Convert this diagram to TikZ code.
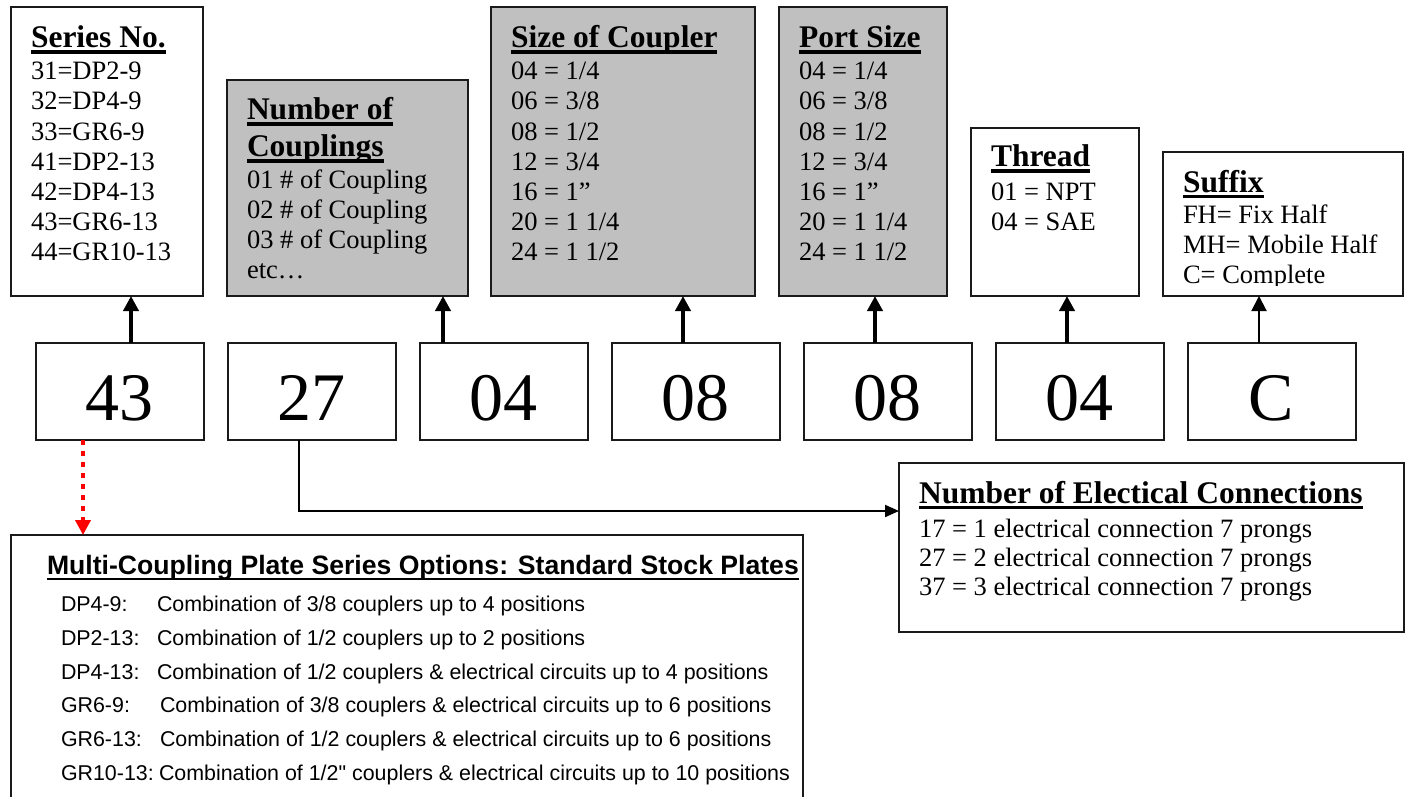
\documentclass[tikz,border=0pt]{standalone}
\usepackage{fontspec}
\setmainfont{Liberation Serif}
\newfontfamily\arialfont{Liberation Sans}[Ligatures=TeXOff]
\usepackage{xcolor}
\definecolor{panel}{RGB}{192, 192, 192}
\definecolor{edge}{RGB}{26, 26, 26}
\definecolor{pointer}{RGB}{255, 0, 0}
\usetikzlibrary{arrows.meta, positioning}
\newsavebox\ulbox
\newcommand{\titleul}[2][3.5pt]{\sbox\ulbox{#2}\rlap{\rule[-6pt]{\wd\ulbox}{#1}}\usebox\ulbox}

\begin{document}
\begin{tikzpicture}[
  x = 1pt, y = -1pt,
  every node/.style = {inner sep=0pt, outer sep=0pt},
  % node styles
  box/.style   = {rectangle, draw=edge, line width=2pt, fill=white, anchor=south west},
  gbox/.style  = {box, fill=panel},
  code/.style  = {rectangle, draw=edge, line width=2pt, minimum width=168pt,
                  minimum height=97pt, text height=57pt, text depth=0pt,
                  font=\fontsize{68}{68}\selectfont},
  head/.style  = {anchor=base west, font=\fontsize{31.5}{37}\selectfont\bfseries},
  txt/.style   = {anchor=base west, font=\fontsize{26.5}{30}\selectfont},
  ahead/.style = {anchor=base west, font=\arialfont\fontsize{26.6}{30}\selectfont\bfseries},
  atxt/.style  = {anchor=base west, font=\arialfont\fontsize{21.4}{25}\selectfont},
  % arrow styles
  uparr/.style   = {-{Triangle[length=15pt, width=15pt]}, line width=4.5pt},
  thinarr/.style = {-{Triangle[length=15pt, width=15pt]}, line width=2pt},
  elarr/.style   = {-{Triangle[length=14pt, width=12pt]}, line width=2pt},
  redarr/.style  = {-{Triangle[length=15pt, width=15pt]}, line width=4.5pt,
                    color=pointer, dash pattern=on 5pt off 6pt},
]
\path[use as bounding box, fill=white] (0,0) rectangle (1408,797);

%% Top row: legend boxes
\node[box,  minimum width=192pt, minimum height=289pt] (series) at (11,296)   {};
\node[gbox, minimum width=241pt, minimum height=216pt] (ncoup)  at (227,296)  {};
\node[gbox, minimum width=264pt, minimum height=289pt] (csize)  at (491,296)  {};
\node[gbox, minimum width=168pt, minimum height=289pt] (psize)  at (779,296)  {};
\node[box,  minimum width=168pt, minimum height=168pt] (thread) at (971,296)  {};
\node[box,  minimum width=240pt, minimum height=144pt] (suffix) at (1163,296) {};

%% Legend texts
\node[head] (serieshd) at (31,48) {\titleul{Series No.}};
\foreach \t [count=\i] in {31=DP2-9, 32=DP4-9, 33=GR6-9, 41=DP2-13, 42=DP4-13, 43=GR6-13, 44=GR10-13}
  \node[txt] (series\i) at (31,50+30*\i) {\t};

\node[head] (ncouphd)  at (247,120) {\titleul{Number of}};
\node[head] (ncouphd2) at (247,157) {\titleul{Couplings}};
\foreach \t [count=\i] in {01 \# of Coupling, 02 \# of Coupling, 03 \# of Coupling, etc…}
  \node[txt] (ncoup\i) at (247,158+30*\i) {\t};

\node[head] (csizehd) at (511,48) {\titleul{Size of Coupler}};
\node[head] (psizehd) at (799,48) {\titleul{Port Size}};
\foreach \t [count=\i] in {04 = 1/4, 06 = 3/8, 08 = 1/2, 12 = 3/4, 16 = 1”, 20 = 1 1/4, 24 = 1 1/2}{
  \node[txt] (csize\i) at (511,50+30*\i) {\t};
  \node[txt] (psize\i) at (799,50+30*\i) {\t};
}

\node[head] (threadhd) at (991,167) {\titleul{Thread}};
\node[txt]  (thread1)  at (991,200) {01 = NPT};
\node[txt]  (thread2)  at (991,230) {04 = SAE};

\begin{scope}
  \clip (1163,152) rectangle (1403,285);
  \node[head] (suffixhd) at (1183,192) {\titleul{Suffix}};
  \node[txt]  (suffix1)  at (1183,223) {FH= Fix Half};
  \node[txt]  (suffix2)  at (1183,253) {MH= Mobile Half};
  \node[txt]  (suffix3)  at (1183,283) {C= Complete};
\end{scope}

%% Middle row: part number codes
\node[code] (c43) at (119.5,391.5) {43};
\node[code, right=24pt of c43]  (c27)  {27};
\node[code, right=24pt of c27]  (c04a) {04};
\node[code, right=24pt of c04a] (c08a) {08};
\node[code, right=24pt of c08a] (c08b) {08};
\node[code, right=24pt of c08b] (c04b) {04};
\node[code, right=24pt of c04b] (cC)   {C};

%% Code to legend arrows
\draw[uparr]   ([xshift=11.5pt]c43.north)  -- ([xshift=11.5pt]c43.north |- series.south);
\draw[uparr]   ([xshift=-60.5pt]c04a.north) -- ([xshift=-60.5pt]c04a.north |- ncoup.south);
\draw[uparr]   ([xshift=-12.5pt]c08a.north) -- ([xshift=-12.5pt]c08a.north |- csize.south);
\draw[uparr]   ([xshift=-12.5pt]c08b.north) -- ([xshift=-12.5pt]c08b.north |- psize.south);
\draw[uparr]   ([xshift=-12.5pt]c04b.north) -- ([xshift=-12.5pt]c04b.north |- thread.south);
\draw[thinarr] ([xshift=-12.5pt]cC.north)   -- ([xshift=-12.5pt]cC.north |- suffix.south);

%% Electrical connections box
\node[box, anchor=north west, minimum width=505pt, minimum height=169pt] (elec) at (899,463) {};
\node[head] (elechd) at (919,503) {\titleul{Number of Electical Connections}};
\foreach \n [count=\i] in {1, 2, 3}
  \node[txt] (elec\i) at (919,508+29*\i) {\n7 = \n\ electrical connection 7 prongs};
\draw[elarr] ([xshift=-12.5pt]c27.south) |- ([yshift=36.5pt]elec.west);

%% Plate series box
\node[box, anchor=north west, minimum width=792pt, minimum height=265pt] (plates) at (11,535) {};
\draw[redarr] ([xshift=-36.5pt]c43.south) -- ([xshift=-36.5pt]c43.south |- plates.north);
\node[ahead] (plateshd) at (47,574)
  {\titleul[2.5pt]{Multi-Coupling Plate Series Options: Standard Stock Plates}};
\node[atxt] (lab1) at (61,611) {DP4-9:};
\node[atxt] (lab2) at (61,645) {DP2-13:};
\node[atxt] (lab3) at (61,679) {DP4-13:};
\node[atxt] (lab4) at (61,712) {GR6-9:};
\node[atxt] (lab5) at (61,746) {GR6-13:};
\node[atxt] (lab6) at (61,780) {GR10-13:};
\node[atxt] (desc1) at (157,611) {Combination of 3/8 couplers up to 4 positions};
\node[atxt] (desc2) at (157,645) {Combination of 1/2 couplers up to 2 positions};
\node[atxt] (desc3) at (157,679) {Combination of 1/2 couplers \& electrical circuits up to 4 positions};
\node[atxt] (desc4) at (160,712) {Combination of 3/8 couplers \& electrical circuits up to 6 positions};
\node[atxt] (desc5) at (160,746) {Combination of 1/2 couplers \& electrical circuits up to 6 positions};
\node[atxt] (desc6) at (159,780) {Combination of 1/2" couplers \& electrical circuits up to 10 positions};

\end{tikzpicture}
\end{document}
